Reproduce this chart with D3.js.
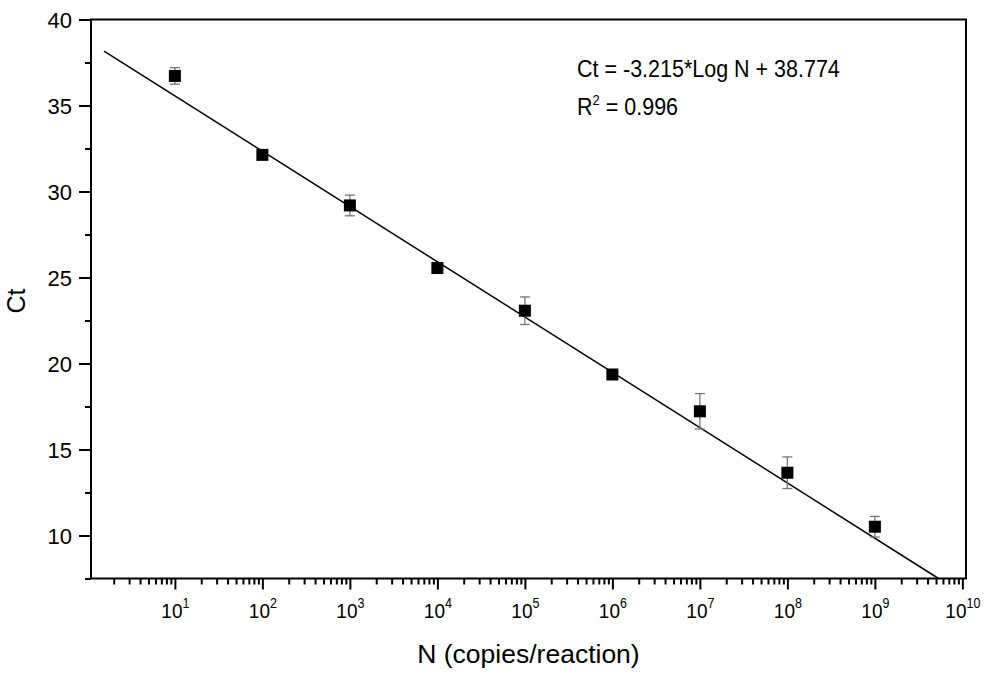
<!DOCTYPE html>
<html>
<head>
<meta charset="utf-8">
<script src="https://cdn.jsdelivr.net/npm/d3@7"></script>
<style>
  body { margin: 0; background: #fff; }
  text { font-family: "Liberation Sans", Arial, sans-serif; fill: #000; }
</style>
</head>
<body>
<div id="chart"></div>
<script>
// copies per reaction (x) and measured Ct (mean, sd)
var copies = [1e1, 1e2, 1e3, 1e4, 1e5, 1e6, 1e7, 1e8, 1e9]
var ctMean = [36.72, 32.13, 29.19, 25.55, 23.07, 19.36, 17.22, 13.65, 10.51]
var ctSd   = [0.48, 0.2, 0.6, 0.2, 0.8, 0.15, 1.03, 0.92, 0.6]
var slope = -3.215
var intercept = 38.774
var fitRange = [1.55, 5.34e9]
var xTicks = [1e1, 1e2, 1e3, 1e4, 1e5, 1e6, 1e7, 1e8, 1e9, 1e10]
var yTicks = [10, 15, 20, 25, 30, 35, 40]
var yMinor = [7.5, 12.5, 17.5, 22.5, 27.5, 32.5, 37.5]

var width = 992, height = 679
var pLeft = 91, pRight = 966, pTop = 19.5, pBottom = 578.5

var svg = d3.select("#chart").append("svg")
    .attr("width", width)
    .attr("height", height)

var x = d3.scaleLog().domain([1.1, 1.1e10]).range([pLeft, pRight])
var y = d3.scaleLinear().domain([7.5, 40]).range([pBottom, pTop])

// minor x ticks, 2..9 in each decade
var xMinor = []
for (var e = 0; e < 10; e++) {
    for (var m = 2; m <= 9; m++) {
        var v = m * Math.pow(10, e)
        if (v > 1.1 && v < 1.1e10) xMinor.push(v)
    }
}

var xAxis = d3.axisBottom(x).tickValues(xTicks).tickSize(11).tickFormat("")
var xAxisMinor = d3.axisBottom(x).tickValues(xMinor).tickSize(6).tickFormat("")
var yAxis = d3.axisLeft(y).tickValues(yTicks).tickSize(12).tickFormat(d3.format("d"))
var yAxisMinor = d3.axisLeft(y).tickValues(yMinor).tickSize(6).tickFormat("")

function styleAxis(g) {
    g.selectAll("path").remove()
    g.selectAll("line").attr("stroke", "#000").attr("stroke-width", 2)
}

svg.append("g").attr("transform", "translate(0," + pBottom + ")").call(xAxisMinor).call(styleAxis)
var gx = svg.append("g").attr("transform", "translate(0," + pBottom + ")").call(xAxis).call(styleAxis)
svg.append("g").attr("transform", "translate(" + pLeft + ",0)").call(yAxisMinor).call(styleAxis)
var gy = svg.append("g").attr("transform", "translate(" + pLeft + ",0)").call(yAxis).call(styleAxis)

gy.selectAll("text")
    .attr("font-size", 22)
    .attr("x", -19)
    .attr("dy", "0.36em")
    .attr("fill", "#000")
    .attr("font-family", "Liberation Sans, Arial, sans-serif")

// x tick labels as 10^n (text is a little taller than wide in the original)
gx.selectAll(".tick").each(function(d) {
    var t = d3.select(this).append("text")
        .attr("transform", "translate(0,39.5) scale(1,1.1)")
        .attr("text-anchor", "middle")
        .attr("font-size", 19)
        .attr("fill", "#000")
        .attr("font-family", "Liberation Sans, Arial, sans-serif")
    t.append("tspan").text("10")
    t.append("tspan").attr("dy", -9).attr("font-size", 12.5).text(Math.round(Math.log10(d)))
})

// frame
svg.append("rect")
    .attr("x", pLeft).attr("y", pTop)
    .attr("width", pRight - pLeft).attr("height", pBottom - pTop)
    .attr("fill", "none").attr("stroke", "#000").attr("stroke-width", 2)

// fit line
var plot = svg.append("g")
plot.append("line")
    .attr("x1", x(fitRange[0])).attr("y1", y(slope * Math.log10(fitRange[0]) + intercept))
    .attr("x2", x(fitRange[1])).attr("y2", y(slope * Math.log10(fitRange[1]) + intercept))
    .attr("stroke", "#000").attr("stroke-width", 1.5)

var pts = copies.map(function(c, i) { return {n: c, ct: ctMean[i], sd: ctSd[i]} })

// error bars
var eb = plot.selectAll(".eb").data(pts).enter().append("g").attr("class", "eb")
    .attr("stroke", "#777").attr("stroke-width", 1.3)
eb.append("line")
    .attr("x1", function(d) { return x(d.n) }).attr("x2", function(d) { return x(d.n) })
    .attr("y1", function(d) { return y(d.ct + d.sd) }).attr("y2", function(d) { return y(d.ct - d.sd) })
eb.append("line")
    .attr("x1", function(d) { return x(d.n) - 5 }).attr("x2", function(d) { return x(d.n) + 5 })
    .attr("y1", function(d) { return y(d.ct + d.sd) }).attr("y2", function(d) { return y(d.ct + d.sd) })
eb.append("line")
    .attr("x1", function(d) { return x(d.n) - 5 }).attr("x2", function(d) { return x(d.n) + 5 })
    .attr("y1", function(d) { return y(d.ct - d.sd) }).attr("y2", function(d) { return y(d.ct - d.sd) })

// markers
plot.selectAll(".pt").data(pts).enter().append("rect").attr("class", "pt")
    .attr("x", function(d) { return x(d.n) - 6 })
    .attr("y", function(d) { return y(d.ct) - 6 })
    .attr("width", 12).attr("height", 12)
    .attr("fill", "#000")

// equation
svg.append("text").attr("transform", "translate(577,77) scale(1,1.15)").attr("font-size", 21.5)
    .text("Ct = -3.215*Log N + 38.774")
var r2 = svg.append("text").attr("transform", "translate(577,115) scale(1,1.15)").attr("font-size", 21.5)
r2.append("tspan").text("R")
r2.append("tspan").attr("dy", -9).attr("font-size", 13).text("2")
r2.append("tspan").attr("dy", 9).text(" = 0.996")

// axis titles
svg.append("text")
    .attr("transform", "translate(25,301) rotate(-90)")
    .attr("text-anchor", "middle")
    .attr("font-size", 25)
    .text("Ct")
svg.append("text")
    .attr("x", (pLeft + pRight) / 2).attr("y", 663)
    .attr("text-anchor", "middle")
    .attr("font-size", 26.5)
    .text("N (copies/reaction)")
</script>
</body>
</html>
